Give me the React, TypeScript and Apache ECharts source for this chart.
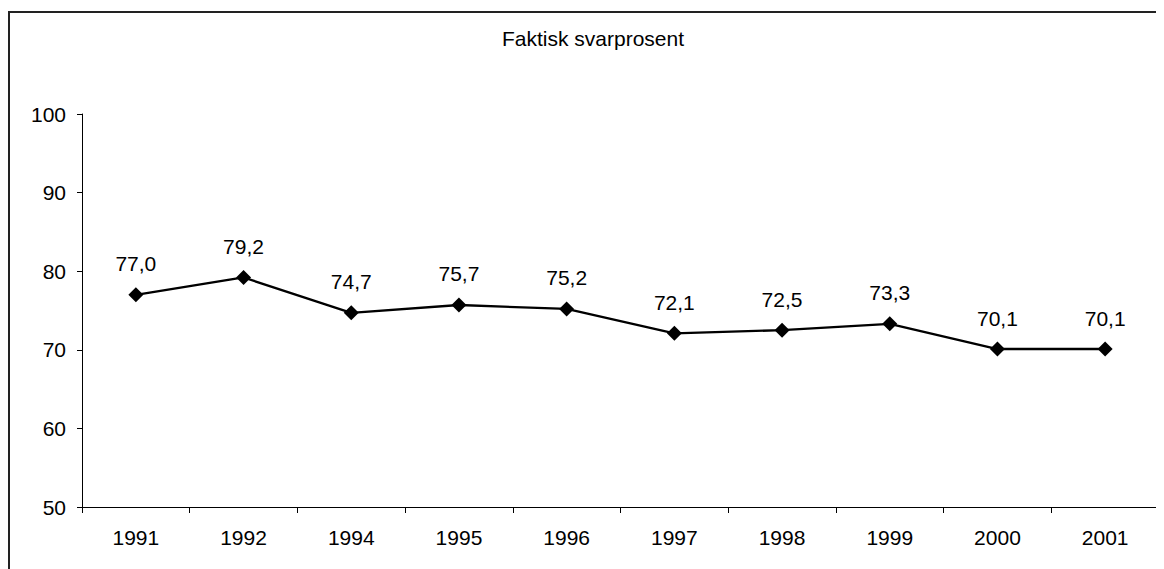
import React, { useEffect, useRef } from "react";
import * as echarts from "echarts";

const titleText = "Faktisk svarprosent";
const years = ["1991", "1992", "1994", "1995", "1996", "1997", "1998", "1999", "2000", "2001"];
const responseRate = [77.0, 79.2, 74.7, 75.7, 75.2, 72.1, 72.5, 73.3, 70.1, 70.1];

const FONT = "'Liberation Sans', Arial, Helvetica, sans-serif";

export default function App() {
  const ref = useRef<HTMLDivElement>(null);
  useEffect(() => {
    if (!ref.current) return;
    const chart = echarts.init(ref.current, null, { renderer: "svg" });
    chart.setOption({
      animation: false,
      backgroundColor: "#fff",
      textStyle: { fontFamily: FONT, color: "#000" },
      title: {
        text: titleText,
        left: 494,
        top: 20,
        padding: 0,
        textStyle: { fontFamily: FONT, fontSize: 21, fontWeight: "normal", color: "#000" },
      },
      graphic: [
        {
          type: "rect",
          shape: { x: 1, y: 4, width: 3000, height: 3000 },
          style: { fill: "none", stroke: "#222", lineWidth: 2 },
          silent: true,
          z: 100,
        },
      ],
      grid: { left: 74, top: 106, right: 5, bottom: 62, containLabel: false },
      xAxis: {
        type: "category",
        data: years,
        boundaryGap: true,
        axisLine: { lineStyle: { color: "#000", width: 1 } },
        axisTick: { show: true, length: 6, lineStyle: { color: "#000" }, alignWithLabel: false },
        axisLabel: { color: "#000", fontSize: 21, fontFamily: FONT, margin: 20 },
        splitLine: { show: false },
      },
      yAxis: {
        type: "value",
        min: 50,
        max: 100,
        interval: 10,
        axisLine: { show: true, lineStyle: { color: "#000", width: 1 } },
        axisTick: { show: true, length: 5, lineStyle: { color: "#000" } },
        axisLabel: { color: "#000", fontSize: 21, fontFamily: FONT, margin: 16 },
        splitLine: { show: false },
      },
      series: [
        {
          type: "line",
          data: responseRate,
          symbol: "diamond",
          symbolSize: 15,
          itemStyle: { color: "#000" },
          lineStyle: { color: "#000", width: 2.3 },
          label: {
            show: true,
            position: "top",
            distance: 13,
            color: "#000",
            fontSize: 21,
            fontFamily: FONT,
            formatter: (p: any) => p.value.toFixed(1).replace(".", ","),
          },
        },
      ],
    });
    return () => chart.dispose();
  }, []);
  return <div ref={ref} style={{ width: 1156, height: 561 }} />;
}
